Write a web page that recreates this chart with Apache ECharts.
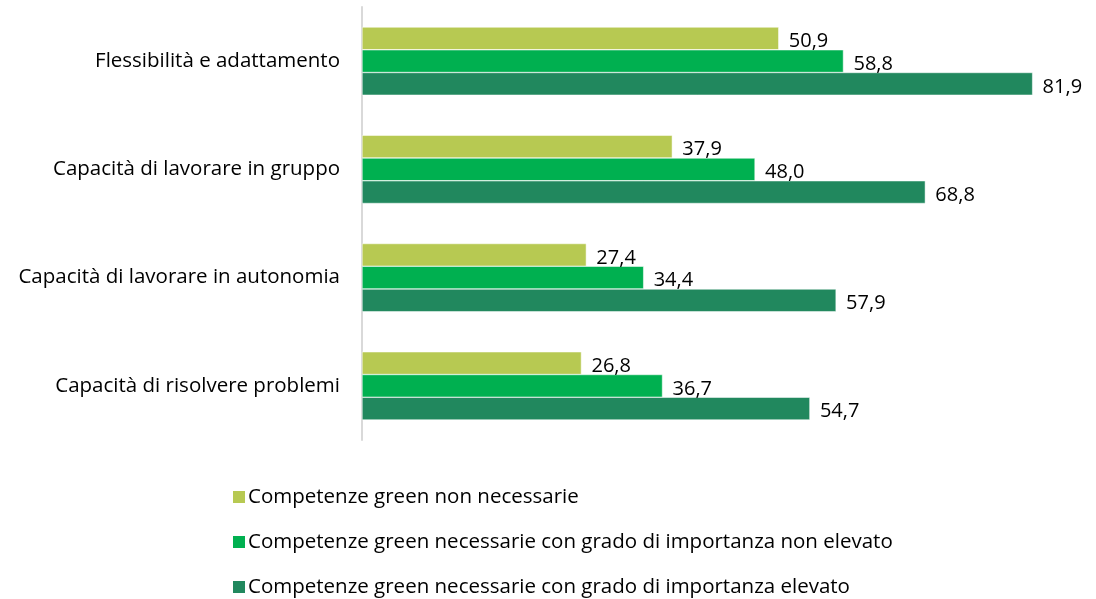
<!DOCTYPE html>
<html><head><meta charset="utf-8">
<script src="https://cdn.jsdelivr.net/npm/echarts@6/dist/echarts.min.js"></script>
<style>html,body{margin:0;padding:0;background:#fff}#c{width:1096px;height:599px}</style>
</head><body><div id="c"></div>
<script>
const categories = ["Flessibilità e adattamento","Capacità di lavorare in gruppo","Capacità di lavorare in autonomia","Capacità di risolvere problemi"];
const seriesNames = ["Competenze green non necessarie","Competenze green necessarie con grado di importanza non elevato","Competenze green necessarie con grado di importanza elevato"];
const nonNecessarie = [50.9, 37.9, 27.4, 26.8];
const nonElevato = [58.8, 48.0, 34.4, 36.7];
const elevato = [81.9, 68.8, 57.9, 54.7];
const colors = ["#B7C952", "#00B050", "#21885E"];
const FONT = "Open Sans";
const chart = echarts.init(document.getElementById('c'));
const mk = (name, data, color) => ({
  name, type: 'bar', data, barGap: '0%', barCategoryGap: '37%',
  itemStyle: {color, borderColor: '#ffffff', borderWidth: 0.5},
  label: {show: true, position: 'right', distance: 10, color: '#000', fontFamily: FONT, fontSize: 20,
    offset: [0, 3],
    formatter: p => p.value.toFixed(1).replace('.', ',')}
});
chart.setOption({
  animation: false,
  textStyle: {fontFamily: FONT},
  grid: {left: 362, right: 38, top: 7, bottom: 159, containLabel: false},
  xAxis: {type: 'value', min: 0, max: 85, show: false},
  yAxis: {type: 'category', data: categories, inverse: true,
    axisLine: {show: true, lineStyle: {color: '#d9d9d9', width: 2}},
    axisTick: {show: false},
    axisLabel: {color: '#000', fontFamily: FONT, fontSize: 20.5, margin: 22}},
  legend: {orient: 'vertical', left: 226, top: 480, height: 119, itemWidth: 14, itemHeight: 14, itemGap: 21,
    icon: 'rect', data: seriesNames,
    textStyle: {color: '#000', fontFamily: FONT, fontSize: 20.5, lineHeight: 24, padding: [0,0,0,-3]}},
  series: [mk(seriesNames[0], nonNecessarie, colors[0]), mk(seriesNames[1], nonElevato, colors[1]), mk(seriesNames[2], elevato, colors[2])]
});
</script></body></html>
